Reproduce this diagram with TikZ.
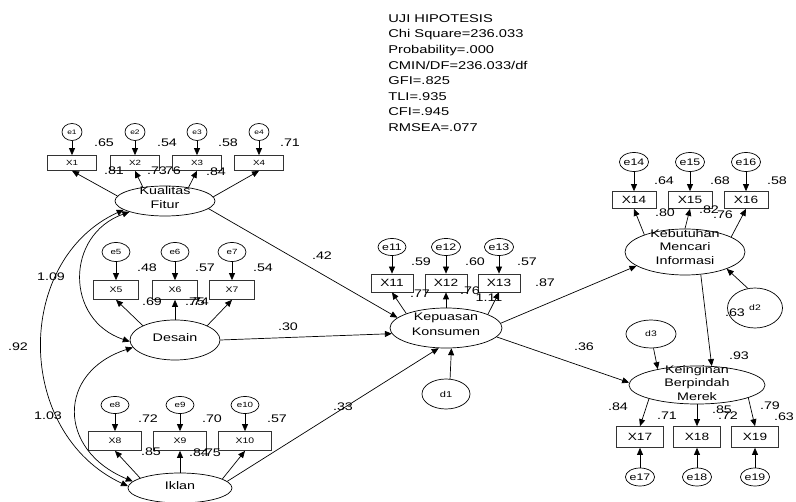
\documentclass[tikz,border=0pt]{standalone}
\usepackage{fontspec}
\setmainfont{Liberation Sans}[FakeStretch=1.3]
\usetikzlibrary{arrows.meta,shapes.geometric}

\tikzset{
  lat/.style={ellipse, draw, inner sep=0pt},
  lattext/.style={align=center, inner sep=0pt, font=\fontsize{11}{14}\selectfont},
  obs/.style={draw=black!80, inner sep=0pt},
  err/.style={ellipse, draw, inner sep=0pt},
  coef/.style={inner sep=0pt, font=\fontsize{11}{12}\selectfont},
  reg/.style={-{Triangle[length=7pt,width=6pt]}},
  cov/.style={{Triangle[length=7pt,width=6pt]}-{Triangle[length=7pt,width=6pt]}},
}

\begin{document}
\begin{tikzpicture}[x=1pt, y=-1pt, line width=0.7pt]
\useasboundingbox (0,0) rectangle (796,502);

% fit indices
\node[anchor=north west, align=left, inner sep=0pt, font=\fontsize{11.3}{15.6}\selectfont]
  (uji) at (388,14) {UJI HIPOTESIS\\Chi Square=236.033\\Probability=.000\\CMIN/DF=236.033/df\\GFI=.825\\TLI=.935\\CFI=.945\\RMSEA=.077};

% latent variables
\node[lat, minimum width=100pt, minimum height=30pt,
  label={[lattext, yshift=3pt]center:Kualitas\\Fitur}] (kf) at (165,201) {};
\node[lat, minimum width=90pt, minimum height=40pt,
  label={[lattext, yshift=2pt]center:Desain}] (ds) at (175,340) {};
\node[lat, minimum width=104pt, minimum height=30pt,
  label={[lattext, yshift=2pt]center:Iklan}] (ik) at (180,488) {};
\node[lat, minimum width=112pt, minimum height=40pt,
  label={[lattext, font=\fontsize{11}{15}\selectfont, yshift=4pt]center:Kepuasan\\Konsumen}] (kk) at (446,328) {};
\node[lat, minimum width=120pt, minimum height=46pt,
  label={[lattext, font=\fontsize{11}{13.2}\selectfont, yshift=5pt]center:Kebutuhan\\Mencari\\Informasi}] (km) at (685,252) {};
\node[lat, minimum width=136pt, minimum height=38pt,
  label={[lattext, font=\fontsize{11}{13.5}\selectfont, yshift=2pt]center:Keinginan\\Berpindah\\Merek}] (kb) at (697,385) {};

% disturbances
\node[err, minimum width=48pt, minimum height=30pt, font=\fontsize{8.5}{9}\selectfont] (d1) at (446,394) {d1};
\node[err, minimum width=55pt, minimum height=40pt, font=\fontsize{8}{9}\selectfont] (d2) at (755,308) {d2};
\node[err, minimum width=50pt, minimum height=28pt, font=\fontsize{8}{9}\selectfont] (d3) at (651,334) {d3};

% indicators
\foreach \n/\x/\a in {1/72/174, 2/135/148, 3/197/30, 4/259/5} {
  \node[obs, minimum width=49pt, minimum height=15pt, font=\fontsize{7.5}{8}\selectfont] (x\n) at (\x,163) {X\n};
  \node[err, minimum width=20pt, minimum height=17pt, font=\fontsize{6.5}{7}\selectfont] (e\n) at (\x,132) {e\n};
  \draw[reg] (e\n) -- (x\n);
  \draw[reg] (kf.\a) -- (x\n.south);
}
\foreach \n/\x/\a in {5/116/156, 6/175/90, 7/232/24} {
  \node[obs, minimum width=45pt, minimum height=19pt, font=\fontsize{8}{9}\selectfont] (x\n) at (\x,290) {X\n};
  \node[err, minimum width=28pt, minimum height=19pt, font=\fontsize{7.5}{8}\selectfont] (e\n) at (\x,252) {e\n};
  \draw[reg] (e\n) -- (x\n);
  \draw[reg] (ds.\a) -- (x\n.south);
}
\foreach \n/\x/\a in {8/115/166, 9/180/90, 10/245/12} {
  \node[obs, minimum width=53pt, minimum height=19pt, font=\fontsize{8}{9}\selectfont] (x\n) at (\x,441) {X\n};
  \node[err, minimum width=28pt, minimum height=17pt, font=\fontsize{7.5}{8}\selectfont] (e\n) at (\x,405) {e\n};
  \draw[reg] (e\n) -- (x\n);
  \draw[reg] (ik.\a) -- (x\n.south);
}
\foreach \n/\x/\a in {11/392/160, 12/446/90, 13/499/18} {
  \node[obs, minimum width=42pt, minimum height=18pt, font=\fontsize{10.5}{11}\selectfont] (x\n) at (\x,283) {X\n};
  \node[err, minimum width=28pt, minimum height=17pt, font=\fontsize{9.5}{10}\selectfont] (e\n) at (\x,247) {e\n};
  \draw[reg] (e\n) -- (x\n);
  \draw[reg] (kk.\a) -- (x\n.south);
}
\foreach \n/\x/\a in {14/634/157, 15/690/90, 16/746/18} {
  \node[obs, minimum width=44pt, minimum height=17pt, font=\fontsize{10.5}{11}\selectfont] (x\n) at (\x,200) {X\n};
  \node[err, minimum width=27pt, minimum height=19pt, font=\fontsize{9.5}{10}\selectfont] (e\n) at (\x,162) {e\n};
  \draw[reg] (e\n) -- (x\n);
  \draw[reg] (km.\a) -- (x\n.south);
}
\foreach \n/\x/\a in {17/640/196, 18/697/270, 19/755/346} {
  \node[obs, minimum width=47pt, minimum height=21pt, font=\fontsize{10.5}{11}\selectfont] (x\n) at (\x,437) {X\n};
  \node[err, minimum width=28pt, minimum height=18pt, font=\fontsize{9.5}{10}\selectfont] (e\n) at (\x,477) {e\n};
  \draw[reg] (e\n) -- (x\n);
  \draw[reg] (kb.\a) -- (x\n.north);
}

% structural paths
\draw[reg] (kf.-10) -- (kk.168);
\draw[reg] (ds.east) -- (kk.186);
\draw[reg] (ik.8) -- (kk.250);
\draw[reg] (d1.75) -- (kk.285);
\draw[reg] (kk.5) -- (km.196);
\draw[reg] (kk.-10) -- (kb.178);
\draw[reg] (km.-55) -- (kb.52);
\draw[reg] (d2.110) -- (km.-22);
\draw[reg] (d3.-80) -- (kb.158);

% covariances
\draw[cov] (kf.197) .. controls (65,235) and (65,320) .. (ds.182);
\draw[cov] (kf.192) .. controls (14,260) and (14,433) .. (ik.178);
\draw[cov] (ds.190) .. controls (57,372) and (57,450) .. (ik.172);

% estimates
\foreach \t/\x/\y [count=\i] in {
  .65/104/143, .54/167/143, .58/228/143, .71/290/143,
  .81/114/171, .73/157/171, .76/171/171, .84/216/172,
  .48/147/268, .57/205/268, .54/263/268,
  .69/152/302, .75/195/302, .74/199/302,
  .72/148/419, .70/212/419, .57/277/419,
  .85/151/452, .84/199/453, .75/211/453,
  .59/421/262, .60/475/262, .57/527/262,
  .77/420/294, .76/470/291, 1.11/489/298,
  .64/664/181, .68/720/181, .58/777/181,
  .80/665/213, .82/709/210, .76/723/215,
  .84/618/407, .71/667/416, .85/722/410, .72/728/416, .79/770/406, .63/784/417,
  .42/322/256, .30/288/327, .33/343/407, .87/545/283, .36/584/347, .93/739/356, .63/735/313,
  1.09/51/277, .92/18/347, 1.03/48/416}
  \node[coef] (c\i) at (\x,\y) {\t};
\end{tikzpicture}
\end{document}
